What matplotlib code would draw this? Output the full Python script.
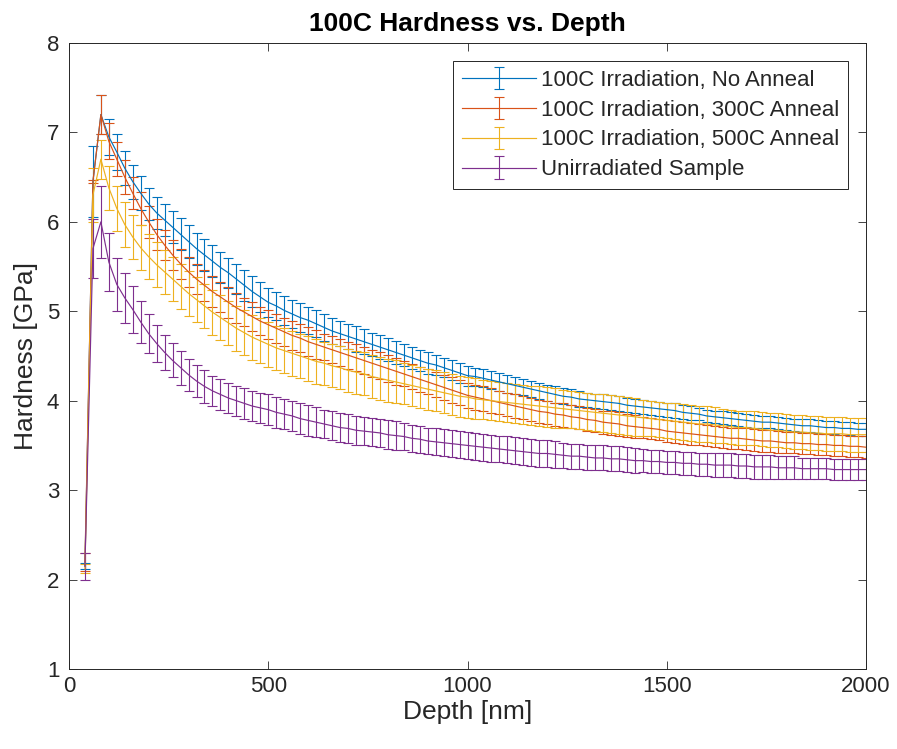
import numpy as np
import matplotlib
matplotlib.use("Agg")
import matplotlib.pyplot as plt

plt.rcParams['font.family'] = ['Liberation Sans', 'DejaVu Sans']

depth = np.arange(40, 2001, 20)

labels = ["100C Irradiation, No Anneal", "100C Irradiation, 300C Anneal",
          "100C Irradiation, 500C Anneal", "Unirradiated Sample"]

h_none = [2.15, 6.45, 7.20, 6.95, 6.78, 6.60, 6.45, 6.32, 6.20, 6.10,
          6.02, 5.94, 5.86, 5.78, 5.70, 5.63, 5.56, 5.49, 5.43, 5.36,
          5.29, 5.22, 5.16, 5.10, 5.06, 5.01, 4.97, 4.93, 4.90, 4.86,
          4.82, 4.78, 4.75, 4.72, 4.69, 4.66, 4.63, 4.60, 4.57, 4.54,
          4.51, 4.48, 4.45, 4.42, 4.40, 4.37, 4.34, 4.31, 4.28, 4.27,
          4.25, 4.23, 4.21, 4.19, 4.17, 4.15, 4.13, 4.11, 4.09, 4.07,
          4.05, 4.04, 4.02, 4.01, 4.00, 3.99, 3.98, 3.97, 3.95, 3.94,
          3.93, 3.92, 3.91, 3.90, 3.89, 3.87, 3.86, 3.85, 3.83, 3.82,
          3.81, 3.80, 3.79, 3.78, 3.77, 3.76, 3.76, 3.75, 3.74, 3.73,
          3.72, 3.72, 3.71, 3.70, 3.70, 3.69, 3.69, 3.68, 3.68]
e_none = [0.03, 0.40, 0.22, 0.20, 0.20, 0.19, 0.19, 0.19, 0.18, 0.18,
          0.18, 0.18, 0.18, 0.18, 0.18, 0.18, 0.18, 0.17, 0.17, 0.17,
          0.17, 0.17, 0.17, 0.16, 0.16, 0.16, 0.16, 0.16, 0.15, 0.15,
          0.15, 0.15, 0.14, 0.14, 0.14, 0.14, 0.13, 0.13, 0.13, 0.13,
          0.12, 0.12, 0.12, 0.12, 0.11, 0.11, 0.11, 0.11, 0.11, 0.10,
          0.10, 0.10, 0.10, 0.10, 0.10, 0.09, 0.09, 0.09, 0.09, 0.09,
          0.09, 0.09, 0.09, 0.08, 0.08, 0.08, 0.08, 0.08, 0.08, 0.08,
          0.08, 0.08, 0.08, 0.08, 0.08, 0.08, 0.08, 0.07, 0.07, 0.07,
          0.07, 0.07, 0.07, 0.07, 0.07, 0.07, 0.07, 0.07, 0.07, 0.07,
          0.07, 0.07, 0.07, 0.07, 0.07, 0.07, 0.07, 0.07, 0.07]

h_300 = [2.20, 6.45, 7.20, 6.90, 6.70, 6.50, 6.32, 6.15, 6.00, 5.86,
         5.74, 5.63, 5.53, 5.44, 5.36, 5.29, 5.22, 5.16, 5.10, 5.04,
         4.99, 4.94, 4.89, 4.85, 4.81, 4.77, 4.73, 4.70, 4.66, 4.63,
         4.60, 4.57, 4.54, 4.51, 4.48, 4.45, 4.42, 4.39, 4.36, 4.33,
         4.30, 4.27, 4.24, 4.21, 4.18, 4.15, 4.12, 4.09, 4.06, 4.04,
         4.02, 4.00, 3.98, 3.96, 3.94, 3.92, 3.90, 3.88, 3.87, 3.85,
         3.84, 3.82, 3.81, 3.79, 3.78, 3.76, 3.75, 3.74, 3.72, 3.71,
         3.70, 3.69, 3.68, 3.66, 3.65, 3.64, 3.63, 3.62, 3.61, 3.60,
         3.59, 3.58, 3.58, 3.57, 3.56, 3.55, 3.55, 3.54, 3.53, 3.53,
         3.52, 3.52, 3.51, 3.51, 3.50, 3.50, 3.49, 3.49, 3.48]
e_300 = [0.10, 0.02, 0.22, 0.20, 0.19, 0.19, 0.18, 0.18, 0.18, 0.17,
         0.17, 0.17, 0.17, 0.17, 0.17, 0.17, 0.17, 0.17, 0.17, 0.17,
         0.16, 0.16, 0.16, 0.16, 0.16, 0.16, 0.16, 0.16, 0.16, 0.16,
         0.15, 0.15, 0.15, 0.15, 0.15, 0.15, 0.15, 0.15, 0.15, 0.15,
         0.14, 0.14, 0.14, 0.14, 0.14, 0.14, 0.14, 0.14, 0.14, 0.14,
         0.14, 0.14, 0.13, 0.13, 0.13, 0.13, 0.13, 0.13, 0.13, 0.13,
         0.13, 0.13, 0.13, 0.13, 0.13, 0.13, 0.13, 0.13, 0.13, 0.13,
         0.12, 0.12, 0.12, 0.12, 0.12, 0.12, 0.12, 0.12, 0.12, 0.12,
         0.12, 0.12, 0.12, 0.12, 0.12, 0.12, 0.12, 0.12, 0.12, 0.12,
         0.12, 0.12, 0.12, 0.12, 0.12, 0.12, 0.12, 0.12, 0.12]

h_500 = [2.12, 6.30, 6.70, 6.38, 6.15, 5.97, 5.83, 5.71, 5.61, 5.52,
         5.44, 5.36, 5.28, 5.20, 5.13, 5.06, 4.99, 4.93, 4.87, 4.81,
         4.76, 4.71, 4.67, 4.63, 4.59, 4.56, 4.53, 4.50, 4.47, 4.44,
         4.42, 4.39, 4.37, 4.34, 4.32, 4.30, 4.27, 4.25, 4.23, 4.21,
         4.19, 4.17, 4.15, 4.13, 4.11, 4.09, 4.07, 4.05, 4.04, 4.02,
         4.01, 4.00, 3.99, 3.98, 3.97, 3.96, 3.95, 3.94, 3.93, 3.92,
         3.91, 3.90, 3.89, 3.88, 3.87, 3.86, 3.85, 3.84, 3.83, 3.82,
         3.81, 3.80, 3.79, 3.78, 3.77, 3.76, 3.75, 3.74, 3.74, 3.73,
         3.72, 3.71, 3.70, 3.70, 3.69, 3.68, 3.67, 3.67, 3.66, 3.65,
         3.65, 3.64, 3.64, 3.63, 3.63, 3.63, 3.62, 3.62, 3.62]
e_500 = [0.05, 0.30, 0.22, 0.25, 0.25, 0.25, 0.25, 0.25, 0.25, 0.25,
         0.25, 0.25, 0.25, 0.25, 0.25, 0.25, 0.25, 0.25, 0.25, 0.25,
         0.25, 0.25, 0.25, 0.25, 0.25, 0.25, 0.25, 0.25, 0.25, 0.25,
         0.24, 0.24, 0.24, 0.24, 0.24, 0.24, 0.24, 0.24, 0.24, 0.24,
         0.23, 0.23, 0.23, 0.23, 0.23, 0.23, 0.23, 0.23, 0.23, 0.23,
         0.22, 0.22, 0.22, 0.22, 0.22, 0.22, 0.22, 0.22, 0.22, 0.22,
         0.21, 0.21, 0.21, 0.21, 0.21, 0.21, 0.21, 0.21, 0.21, 0.21,
         0.20, 0.20, 0.20, 0.20, 0.20, 0.20, 0.20, 0.20, 0.20, 0.20,
         0.19, 0.19, 0.19, 0.19, 0.19, 0.19, 0.19, 0.19, 0.19, 0.19,
         0.19, 0.19, 0.19, 0.19, 0.19, 0.19, 0.19, 0.19, 0.19]

h_unirr = [2.15, 5.70, 6.00, 5.55, 5.30, 5.15, 5.02, 4.88, 4.75, 4.64,
           4.54, 4.45, 4.37, 4.29, 4.22, 4.16, 4.11, 4.07, 4.03, 4.00,
           3.97, 3.94, 3.92, 3.90, 3.87, 3.85, 3.83, 3.80, 3.78, 3.76,
           3.74, 3.72, 3.70, 3.69, 3.67, 3.66, 3.65, 3.64, 3.62, 3.61,
           3.60, 3.58, 3.57, 3.55, 3.54, 3.53, 3.52, 3.51, 3.50, 3.49,
           3.48, 3.47, 3.46, 3.45, 3.44, 3.43, 3.42, 3.41, 3.41, 3.40,
           3.39, 3.38, 3.38, 3.37, 3.36, 3.36, 3.35, 3.35, 3.34, 3.33,
           3.33, 3.32, 3.32, 3.31, 3.31, 3.30, 3.30, 3.29, 3.29, 3.28,
           3.28, 3.28, 3.27, 3.27, 3.26, 3.26, 3.26, 3.25, 3.25, 3.25,
           3.24, 3.24, 3.24, 3.24, 3.23, 3.23, 3.23, 3.23, 3.23]
e_unirr = [0.15, 0.33, 0.40, 0.32, 0.30, 0.28, 0.26, 0.24, 0.22, 0.21,
           0.20, 0.19, 0.19, 0.18, 0.18, 0.18, 0.17, 0.17, 0.17, 0.17,
           0.17, 0.17, 0.17, 0.17, 0.17, 0.17, 0.17, 0.17, 0.17, 0.17,
           0.16, 0.16, 0.16, 0.16, 0.16, 0.16, 0.16, 0.16, 0.16, 0.16,
           0.15, 0.15, 0.15, 0.15, 0.15, 0.15, 0.15, 0.15, 0.15, 0.15,
           0.15, 0.15, 0.15, 0.15, 0.15, 0.15, 0.15, 0.15, 0.15, 0.15,
           0.14, 0.14, 0.14, 0.14, 0.14, 0.14, 0.14, 0.14, 0.14, 0.14,
           0.13, 0.13, 0.13, 0.13, 0.13, 0.13, 0.13, 0.13, 0.13, 0.13,
           0.13, 0.13, 0.13, 0.13, 0.13, 0.13, 0.13, 0.13, 0.13, 0.13,
           0.12, 0.12, 0.12, 0.12, 0.12, 0.12, 0.12, 0.12, 0.12]

colors = ["#0072BD", "#D95319", "#EDB120", "#7E2F8E"]
series = [(h_none, e_none), (h_300, e_300), (h_500, e_500), (h_unirr, e_unirr)]

fig = plt.figure(figsize=(8.97, 7.49), dpi=100)
ax = fig.add_axes([69/897, 1-669/749, (866-69)/897, (669-43)/749])

for (h, e), c, lab in zip(series, colors, labels):
    ax.errorbar(depth, h, yerr=e, color=c, lw=0.85, elinewidth=0.8,
                capsize=3.6, capthick=0.8, label=lab)

ax.set_xlim(0, 2000)
ax.set_ylim(1, 8)
ax.set_xticks([0, 500, 1000, 1500, 2000])
ax.set_yticks([1, 2, 3, 4, 5, 6, 7, 8])
tc = "#262626"
ax.tick_params(direction='in', top=True, right=True, labelsize=16,
               colors=tc, length=6, width=0.6)
ax.tick_params(axis='y', pad=7)
ax.tick_params(axis='x', pad=5)
for s in ax.spines.values():
    s.set_color(tc)
    s.set_linewidth(0.7)
ax.set_xlabel("Depth [nm]", fontsize=19, color=tc, labelpad=2)
ax.set_ylabel("Hardness [GPa]", fontsize=19, color=tc, labelpad=6)
ax.set_title("100C Hardness vs. Depth", fontsize=19, fontweight='bold', color='black', pad=9)

leg = ax.legend(loc='upper right', fontsize=16, handlelength=3.3, frameon=True,
                fancybox=False, framealpha=1, edgecolor=tc, borderpad=0.4,
                labelspacing=0.4, handletextpad=0.25, borderaxespad=0.8)
leg.get_frame().set_linewidth(0.7)
for t in leg.get_texts():
    t.set_color(tc)

fig.savefig("out.png", dpi=100, facecolor='white')
